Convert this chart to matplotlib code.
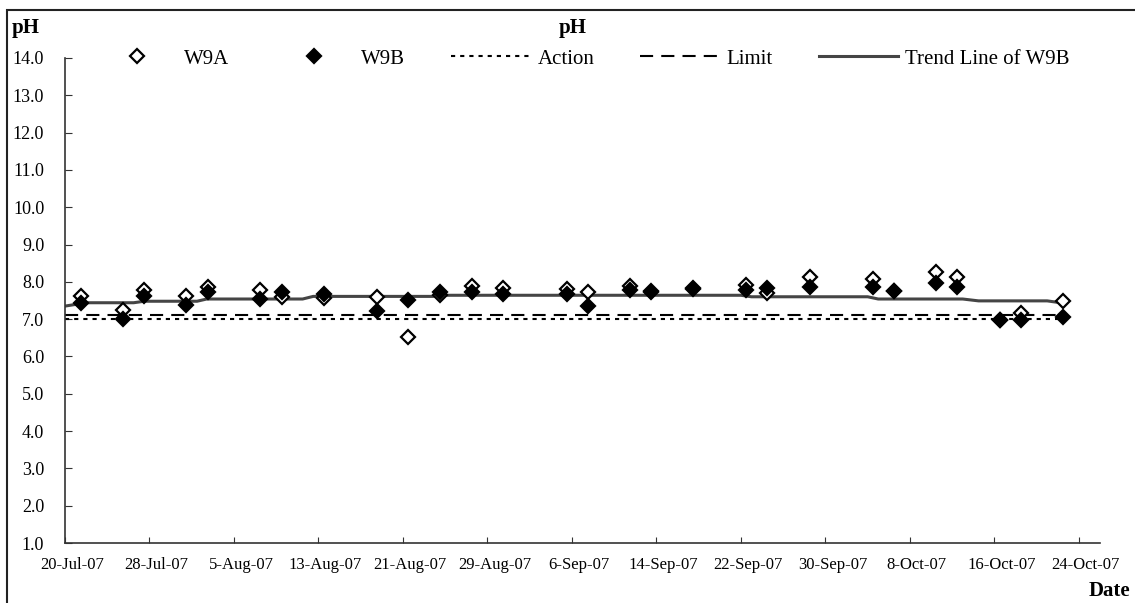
import pandas as pd
import matplotlib.pyplot as plt
import matplotlib.dates as mdates
import matplotlib.transforms as mtransforms
from matplotlib.lines import Line2D
from matplotlib.patches import Rectangle

plt.rcParams['font.family'] = ['Liberation Serif', 'DejaVu Serif']

# Sampling dates (samples taken around midday)
dates = pd.to_datetime([
    "2007-07-21 12:00", "2007-07-25 12:00", "2007-07-27 12:00", "2007-07-31 12:00",
    "2007-08-02 12:00", "2007-08-07 12:00", "2007-08-09 12:00", "2007-08-13 12:00",
    "2007-08-18 12:00", "2007-08-21 12:00", "2007-08-24 12:00", "2007-08-27 12:00",
    "2007-08-30 12:00", "2007-09-05 12:00", "2007-09-07 12:00", "2007-09-11 12:00",
    "2007-09-13 12:00", "2007-09-17 12:00", "2007-09-22 12:00", "2007-09-24 12:00",
    "2007-09-28 12:00", "2007-10-04 12:00", "2007-10-06 12:00", "2007-10-10 12:00",
    "2007-10-12 12:00", "2007-10-16 12:00", "2007-10-18 12:00", "2007-10-22 12:00",
])
w9a = [7.63, 7.25, 7.79, 7.63, 7.87, 7.79, 7.60, 7.58, 7.60, 6.53, 7.65, 7.89,
       7.84, 7.81, 7.73, 7.89, 7.73, 7.82, 7.92, 7.70, 8.14, 8.08, 7.76, 8.27,
       8.14, 6.98, 7.17, 7.49]
w9b = [7.44, 7.00, 7.63, 7.39, 7.73, 7.55, 7.73, 7.68, 7.23, 7.52, 7.73, 7.73,
       7.68, 7.68, 7.34, 7.79, 7.76, 7.84, 7.79, 7.84, 7.87, 7.87, 7.76, 7.98,
       7.87, 6.98, 6.98, 7.06]

# Trend line of W9B as drawn in the original
trend_dates = pd.to_datetime([
    "2007-07-20 00:00", "2007-07-22 00:00", "2007-07-26 12:00", "2007-07-27 12:00",
    "2007-08-01 12:00", "2007-08-02 10:00", "2007-08-11 12:00", "2007-08-12 12:00",
    "2007-08-23 20:00", "2007-08-24 14:00", "2007-09-22 00:00", "2007-09-23 00:00",
    "2007-10-04 00:00", "2007-10-05 00:00", "2007-10-13 00:00", "2007-10-14 12:00",
    "2007-10-21 00:00", "2007-10-22 12:00",
])
trend = [7.35, 7.44, 7.44, 7.48, 7.48, 7.54, 7.54, 7.61, 7.61, 7.64, 7.64, 7.60,
         7.60, 7.54, 7.54, 7.49, 7.49, 7.43]

ref_dates = pd.to_datetime(["2007-07-20 00:00", "2007-10-22 20:00"])
action = [7.0, 7.0]
limit = [7.12, 7.12]

labels = ['W9A', 'W9B', 'Action', 'Limit', 'Trend Line of W9B']

fig = plt.figure(figsize=(11.35, 6.03), dpi=100)
ax = fig.add_axes([65 / 1135, 1 - 543 / 603, (1100 - 65) / 1135, (543 - 58) / 603])

action_ls = (0, (2.0, 2.4))
limit_ls = (0, (6.3, 3.9))
trend_col = '#454545'
mk = dict(linestyle='none', marker='D', ms=7, mec='black', mew=1.6)

ax.plot(ref_dates, action, color='black', lw=1.5, linestyle=action_ls)
ax.plot(ref_dates, limit, color='black', lw=1.5, linestyle=limit_ls)
ax.plot(trend_dates, trend, color=trend_col, lw=2.2)
ax.plot(dates, w9a, mfc='white', **mk)
ax.plot(dates, w9b, mfc='black', **mk)

ax.set_ylim(1.0, 14.0)
ax.set_yticks(range(1, 15))
ax.yaxis.set_major_formatter(plt.FormatStrFormatter('%.1f'))
ax.set_xlim(pd.Timestamp("2007-07-20"), pd.Timestamp("2007-10-26"))
ax.set_xticks(pd.date_range("2007-07-20", "2007-10-24", freq="8D"))
ax.xaxis.set_major_formatter(mdates.DateFormatter('%-d-%b-%y'))

for s in ['top', 'right']:
    ax.spines[s].set_visible(False)
for s in ['left', 'bottom']:
    ax.spines[s].set_color('#333333')
    ax.spines[s].set_linewidth(1.2)
ax.tick_params(axis='y', direction='in', length=5, labelsize=13, pad=15, color='#333333')
ax.tick_params(axis='x', direction='in', length=4, labelsize=12, pad=10, color='#333333')

# Excel places the date labels slightly right of their ticks
shift = mtransforms.ScaledTranslation(7 / 100, 0, fig.dpi_scale_trans)
for lab in ax.get_xticklabels():
    lab.set_transform(lab.get_transform() + shift)

handles = [
    Line2D([], [], mfc='white', **mk),
    Line2D([], [], mfc='black', **mk),
    Line2D([], [], color='black', lw=1.5, linestyle=action_ls),
    Line2D([], [], color='black', lw=1.5, linestyle=limit_ls),
    Line2D([], [], color=trend_col, lw=2.2),
]
fig.legend(handles, labels, loc='center', bbox_to_anchor=(0.514, 1 - 59 / 603), ncol=5,
           frameon=False, fontsize=15, handlelength=3.8, handletextpad=0.35,
           columnspacing=2.2)

fig.text(12 / 1135, 1 - 28 / 603, 'pH', fontsize=15, fontweight='bold', va='center', ha='left')
fig.text(573 / 1135, 1 - 28 / 603, 'pH', fontsize=15, fontweight='bold', va='center', ha='center')
fig.text(1130 / 1135, 1 - 591 / 603, 'Date', fontsize=15, fontweight='bold', va='center', ha='right')

# outer frame around the chart area
fig.patches.append(Rectangle((7 / 1135, -0.01), 1.1, 1 - 10 / 603 + 0.01,
                             transform=fig.transFigure, fill=False,
                             edgecolor='#222222', lw=1.5))

fig.savefig('out.png', dpi=100)
